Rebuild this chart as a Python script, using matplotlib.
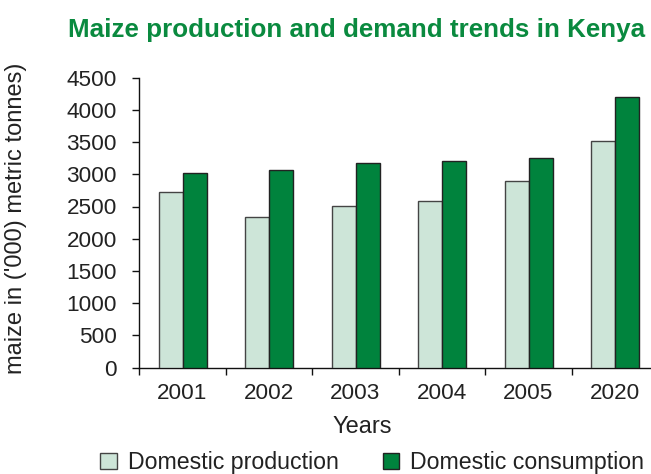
import matplotlib
matplotlib.use("Agg")
import matplotlib.pyplot as plt
import numpy as np
from matplotlib.patches import Patch

years = ["2001", "2002", "2003", "2004", "2005", "2020"]
production = [2730, 2330, 2510, 2580, 2900, 3520]
consumption = [3020, 3060, 3180, 3200, 3250, 4200]
yticks = [0, 500, 1000, 1500, 2000, 2500, 3000, 3500, 4000, 4500]

light = "#cde5d8"
dark = "#00833d"
title_green = "#0a8a3f"
txt = "#222222"

plt.rcParams['font.family'] = ['Liberation Sans', 'DejaVu Sans']

fig = plt.figure(figsize=(6.51, 4.74), dpi=100)
W, H = 651, 474
ax = fig.add_axes([139.3 / W, 1 - 367.5 / H, 519 / W, (367.5 - 77.7) / H])

x = np.arange(len(years))
bw = 0.277
ax.bar(x - bw / 2, production, bw, color=light, edgecolor="#444444", linewidth=1.0, zorder=3)
ax.bar(x + bw / 2, consumption, bw, color=dark, edgecolor="#222222", linewidth=1.0, zorder=3)

ax.set_xlim(-0.5, len(years) - 0.5)
ax.set_ylim(0, 4500)
ax.set_yticks(yticks)
ax.set_yticklabels([str(v) for v in yticks])
ax.set_xticks(x)
ax.set_xticklabels(years)
ax.set_xticks(np.arange(len(years)) - 0.5, minor=True)

for s in ["top", "right"]:
    ax.spines[s].set_visible(False)
for s in ["left", "bottom"]:
    ax.spines[s].set_color("#111111")
    ax.spines[s].set_linewidth(1.0)

ax.tick_params(axis="y", length=5, width=1.0, color="#111111", labelsize=16.2, labelcolor=txt, pad=11)
ax.tick_params(axis="x", which="major", length=0, labelsize=16.2, labelcolor=txt, pad=11)
ax.tick_params(axis="x", which="minor", length=5, width=1.0, color="#111111")

fig.text(362 / W, 1 - 427 / H, "Years", ha="center", va="center", fontsize=17, color=txt)
fig.text(16 / W, 1 - 218 / H, "maize in ('000) metric tonnes)", rotation=90,
         ha="center", va="center", fontsize=17, color=txt)

fig.text(356.5 / W, 1 - 36.7 / H, "Maize production and demand trends in Kenya",
         ha="center", va="baseline", fontsize=18.7, fontweight="bold", color=title_green)

fs = 16.7
fpx = fs * 100 / 72
handles = [Patch(facecolor=light, edgecolor="#444444", linewidth=1.0),
           Patch(facecolor=dark, edgecolor="#222222", linewidth=1.0)]
leg = fig.legend(handles, ["Domestic production", "Domestic consumption"],
                 loc="center left", bbox_to_anchor=(100 / W, 1 - 463 / H), ncol=2,
                 frameon=False, fontsize=fs, handlelength=16.7 / fpx, handleheight=16 / fpx,
                 handletextpad=11 / fpx, columnspacing=44 / fpx, borderaxespad=0, borderpad=0)
for t in leg.get_texts():
    t.set_color(txt)

fig.savefig("out.png", dpi=100)
